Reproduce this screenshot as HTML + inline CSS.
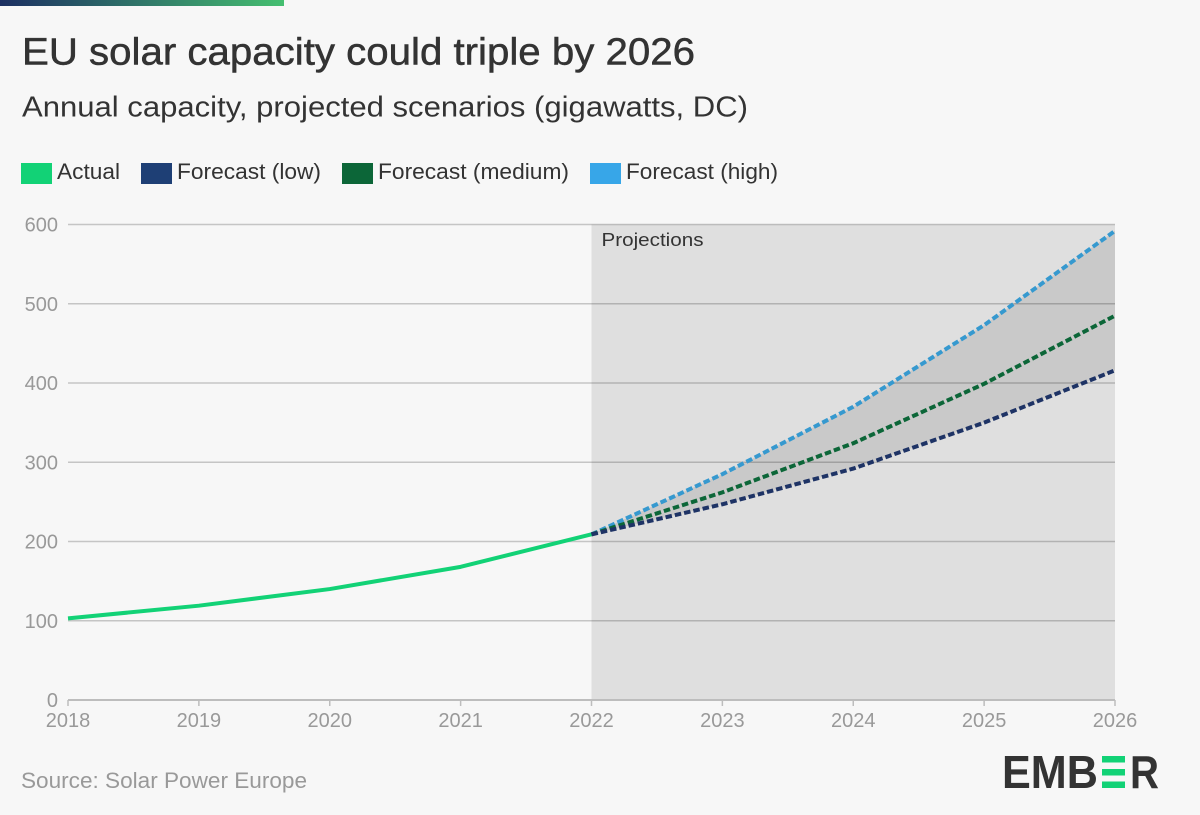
<!DOCTYPE html>
<html lang="en">
<head>
<meta charset="utf-8">
<title>EU solar capacity could triple by 2026</title>
<style>
html,body{margin:0;padding:0;background:#f7f7f7;}
svg{display:block;}
text{font-family:"Liberation Sans",sans-serif;}
</style>
</head>
<body>
<svg id="chart" xmlns="http://www.w3.org/2000/svg" width="1200" height="815" viewBox="0 0 1200 815">
  <defs>
    <linearGradient id="topGrad" x1="0" x2="1" y1="0" y2="0">
      <stop offset="0" stop-color="#1c2f62"/>
      <stop offset="1" stop-color="#45bf70"/>
    </linearGradient>
  </defs>
  <rect width="1200" height="815" fill="#f7f7f7"/>
  <rect x="0" y="0" width="284" height="6" fill="url(#topGrad)"/>
  <text x="22" y="64.5" font-size="38" fill="#333333" stroke="#333333" stroke-width="0.5" textLength="673" lengthAdjust="spacingAndGlyphs">EU solar capacity could triple by 2026</text>
  <text x="22" y="116.5" font-size="29" fill="#333333" textLength="726" lengthAdjust="spacingAndGlyphs">Annual capacity, projected scenarios (gigawatts, DC)</text>

  <g>
    <rect x="21" y="163" width="31" height="21" fill="#12d276"/>
    <text x="57" y="179" font-size="22.5" fill="#333333" textLength="63" lengthAdjust="spacingAndGlyphs">Actual</text>
    <rect x="141" y="163" width="31" height="21" fill="#1e3f75"/>
    <text x="177" y="179" font-size="22.5" fill="#333333" textLength="144" lengthAdjust="spacingAndGlyphs">Forecast (low)</text>
    <rect x="342" y="163" width="31" height="21" fill="#0c6638"/>
    <text x="378" y="179" font-size="22.5" fill="#333333" textLength="191" lengthAdjust="spacingAndGlyphs">Forecast (medium)</text>
    <rect x="590" y="163" width="31" height="21" fill="#37a6e8"/>
    <text x="626" y="179" font-size="22.5" fill="#333333" textLength="152" lengthAdjust="spacingAndGlyphs">Forecast (high)</text>
  </g>

  <g id="plot"></g>

  <text x="21" y="788" font-size="22.5" fill="#999999" textLength="286" lengthAdjust="spacingAndGlyphs">Source: Solar Power Europe</text>

  <g>
    <text x="1002" y="788" font-size="46.5" font-weight="700" fill="#333333" textLength="96" lengthAdjust="spacingAndGlyphs">EMB</text>
    <rect x="1102" y="756" width="23" height="6.5" fill="#12d276"/>
    <rect x="1102" y="769" width="23" height="6.5" fill="#12d276"/>
    <rect x="1102" y="781.5" width="23" height="6.5" fill="#12d276"/>
    <text x="1130" y="788" font-size="46.5" font-weight="700" fill="#333333" textLength="29" lengthAdjust="spacingAndGlyphs">R</text>
  </g>
</svg>
<script>
const years = [2018, 2019, 2020, 2021, 2022, 2023, 2024, 2025, 2026];
const yTicks = [0, 100, 200, 300, 400, 500, 600];
const actualYears = [2018, 2019, 2020, 2021, 2022];
const actualValues = [103, 119, 140, 168, 209];
const forecastYears = [2022, 2023, 2024, 2025, 2026];
const lowValues = [209, 247, 292, 350, 416];
const mediumValues = [209, 262, 324, 399, 485];
const highValues = [209, 285, 370, 473, 592];
const projectionStart = 2022;
const projectionLabel = 'Projections';

const NS = 'http://www.w3.org/2000/svg';
const plot = document.getElementById('plot');
function xScale(year) { return 68 + (year - 2018) * (1115 - 68) / 8; }
function yScale(value) { return 700 - value * (700 - 224.5) / 600; }
function make(tag, attrs, text) {
  const el = document.createElementNS(NS, tag);
  for (const k in attrs) el.setAttribute(k, attrs[k]);
  if (text !== undefined) el.textContent = text;
  plot.appendChild(el);
  return el;
}
function pathOf(xs, vs) {
  return xs.map((x, i) => (i ? 'L' : 'M') + xScale(x).toFixed(2) + ' ' + yScale(vs[i]).toFixed(2)).join(' ');
}

const shade = make('rect', {x: xScale(projectionStart), y: yScale(600), width: xScale(2026) - xScale(projectionStart), height: yScale(0) - yScale(600), fill: '#dfdfdf'});



const reversedYears = forecastYears.slice().reverse();
const reversedLow = lowValues.slice().reverse();
const band = make('path', {d: pathOf(forecastYears, highValues) + ' ' + pathOf(reversedYears, reversedLow).replace('M', 'L') + ' Z', fill: '#c9c9c9'});



yTicks.forEach(function (t) {
  if (t > 0) {
    const grid = make('line', {x1: xScale(2018), x2: xScale(2026), y1: yScale(t), y2: yScale(t), stroke: '#000', 'stroke-opacity': '0.2', 'stroke-width': '1.5'});
    
    
  }
  const label = make('text', {x: 58, y: yScale(t) + 7, 'text-anchor': 'end', 'font-size': '20', fill: '#999999'}, String(t));
  
  
});

const axis = make('line', {x1: xScale(2018), x2: xScale(2026), y1: yScale(0), y2: yScale(0), stroke: '#bdbdbd', 'stroke-width': '2'});



years.forEach(function (y) {
  const tick = make('line', {x1: xScale(y), x2: xScale(y), y1: yScale(0), y2: yScale(0) + 6, stroke: '#bdbdbd', 'stroke-width': '1.5'});
  
  
  const label = make('text', {x: xScale(y), y: 727, 'text-anchor': 'middle', 'font-size': '20', fill: '#999999'}, String(y));
  
  
});

const annotation = make('text', {x: xScale(projectionStart) + 10, y: 246, 'font-size': '18.5', fill: '#333333', textLength: '102', lengthAdjust: 'spacingAndGlyphs'}, projectionLabel);



const actualLine = make('path', {d: pathOf(actualYears, actualValues), fill: 'none', stroke: '#12d276', 'stroke-width': '4', 'stroke-linejoin': 'round'});



const highLine = make('path', {d: pathOf(forecastYears, highValues), fill: 'none', stroke: '#3699cf', 'stroke-width': '4', 'stroke-dasharray': '6.5 3'});



const mediumLine = make('path', {d: pathOf(forecastYears, mediumValues), fill: 'none', stroke: '#0c6638', 'stroke-width': '4', 'stroke-dasharray': '6.5 3'});



const lowLine = make('path', {d: pathOf(forecastYears, lowValues), fill: 'none', stroke: '#1e3365', 'stroke-width': '4', 'stroke-dasharray': '6.5 3'});


</script>
</body>
</html>
